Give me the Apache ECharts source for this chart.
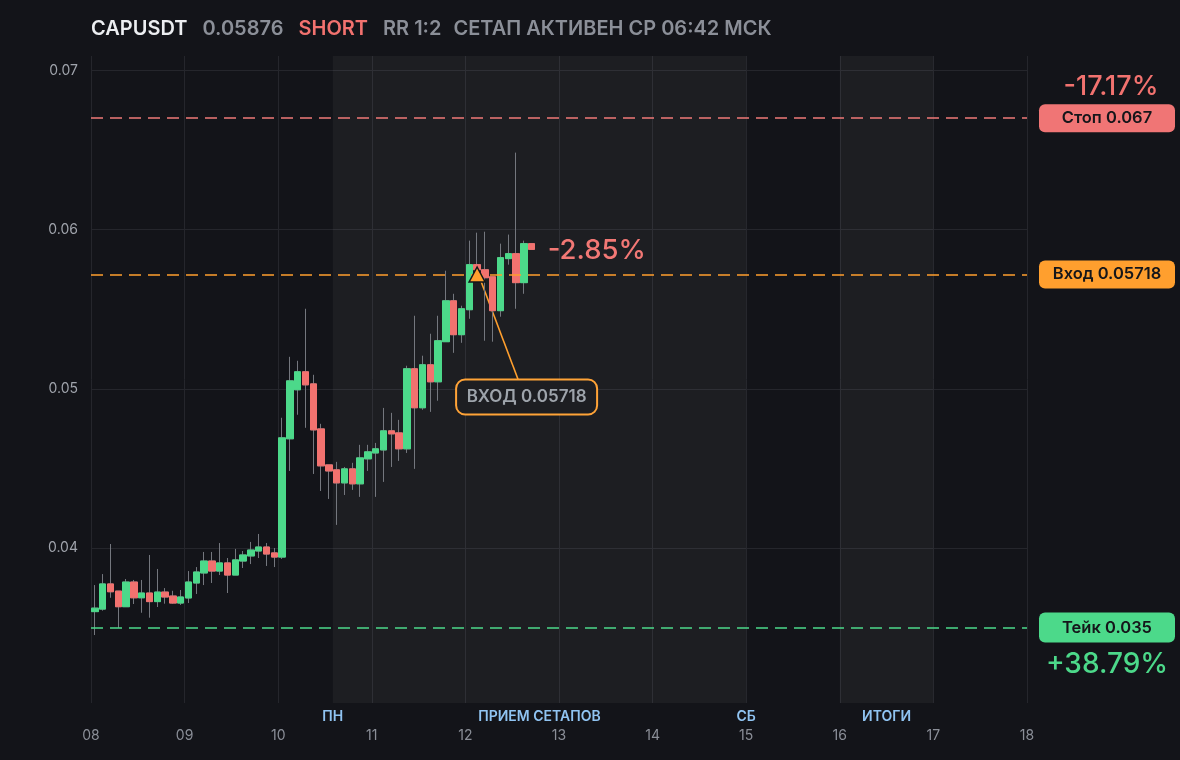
<!DOCTYPE html>
<html><head><meta charset="utf-8">
<style>html,body{margin:0;padding:0;background:#131419;}#c{width:1180px;height:760px;}</style>
<script src="https://cdn.jsdelivr.net/npm/echarts@6/dist/echarts.min.js"></script>
</head><body><div id="c"></div><script>
// ---- data ----
const startDay = 8;            // day of month of first candle
const candleHours = 2;         // candle interval
const opens  = [0.03600,0.03616,0.03774,0.03729,0.03631,0.03786,0.03687,0.03717,0.03663,0.03723,0.03698,0.03654,0.03686,0.03780,0.03843,0.03918,0.03855,0.03906,0.03830,0.03918,0.03950,0.03981,0.04006,0.03969,0.03943,0.04686,0.04994,0.05107,0.05031,0.04748,0.04522,0.04491,0.04409,0.04497,0.04403,0.04560,0.04597,0.04616,0.04736,0.04723,0.04623,0.05126,0.04881,0.05151,0.05044,0.05296,0.05553,0.05340,0.05497,0.05780,0.05748,0.05704,0.05491,0.05818,0.05849,0.05667,0.05912];
const closes = [0.03622,0.03774,0.03725,0.03631,0.03786,0.03687,0.03717,0.03663,0.03723,0.03692,0.03654,0.03692,0.03786,0.03849,0.03918,0.03855,0.03906,0.03830,0.03925,0.03956,0.03987,0.04006,0.03962,0.03943,0.04692,0.05050,0.05107,0.05025,0.04742,0.04516,0.04484,0.04409,0.04497,0.04403,0.04566,0.04604,0.04623,0.04736,0.04717,0.04623,0.05126,0.04881,0.05151,0.05044,0.05302,0.05553,0.05340,0.05503,0.05780,0.05748,0.05698,0.05491,0.05824,0.05849,0.05667,0.05912,0.05876];
const lows   = [0.03453,0.03606,0.03687,0.03497,0.03631,0.03648,0.03593,0.03562,0.03629,0.03650,0.03650,0.03642,0.03654,0.03711,0.03767,0.03780,0.03830,0.03717,0.03830,0.03874,0.03899,0.03937,0.03887,0.03880,0.03931,0.04484,0.04837,0.04755,0.04465,0.04358,0.04308,0.04145,0.04333,0.04365,0.04321,0.04484,0.04321,0.04415,0.04509,0.04547,0.04597,0.04497,0.04868,0.04855,0.04925,0.05296,0.05226,0.05289,0.05440,0.05720,0.05302,0.05296,0.05453,0.05780,0.05503,0.05597,0.05876];
const highs  = [0.03767,0.03836,0.04025,0.03729,0.03805,0.03799,0.03799,0.03956,0.03868,0.03748,0.03731,0.03736,0.03855,0.03880,0.03975,0.03975,0.04031,0.03937,0.03994,0.03981,0.04038,0.04088,0.04031,0.04000,0.04818,0.05201,0.05176,0.05503,0.05088,0.04780,0.04522,0.04541,0.04509,0.04535,0.04648,0.04648,0.04660,0.04880,0.04849,0.04805,0.05145,0.05459,0.05208,0.05346,0.05459,0.05742,0.05597,0.05522,0.05931,0.05981,0.05987,0.05704,0.05912,0.05969,0.06484,0.05931,0.05912];
const dayTicks = [8,9,10,11,12,13,14,15,16,17,18];
const priceTicks = [0.04,0.05,0.06,0.07];
const symbol = 'CAPUSDT', lastPrice = '0.05876', side = 'SHORT', rr = 'RR 1:2', status = 'СЕТАП АКТИВЕН СР 06:42 МСК';
const stopPrice = 0.067, entryPrice = 0.05718, takePrice = 0.035;
const stopPct = '-17.17%', takePct = '+38.79%', livePct = '-2.85%';
const entryCandle = 49;
const zones = [{from:10.583, to:15, label:'ПРИЕМ СЕТАПОВ', startLabel:'ПН', endLabel:'СБ'}, {from:16, to:17, label:'ИТОГИ'}];

// ---- colours ----
const GREEN='#4cd98a', RED='#f2726f', ORANGE='#ff9f2e', WICK='#74777e', GRID='#25262c', TXT='#8b8f98', BLUE='#90c4f2';

const xs = opens.map((_, i) => startDay + (i * candleHours + candleHours / 2) / 24);
const wickData = xs.map((x, i) => [x, opens[i], closes[i], lows[i], highs[i]]);
const bodyData = xs.map((x, i) => [x, opens[i], closes[i], Math.min(opens[i], closes[i]), Math.max(opens[i], closes[i])]);

const chart = echarts.init(document.getElementById('c'), null, {renderer:'canvas'});
const FONT = 'Inter, "Noto Sans", sans-serif';
chart.setOption({
  backgroundColor:'#131419',
  animation:false,
  textStyle:{fontFamily:FONT},
  title:{
    left:86, top:14,
    text:`{a|${symbol}}{b|${lastPrice}}{c|${side}}{b|${rr}}{d|${status}}`,
    textStyle:{rich:{
      a:{color:'#eceef1', fontSize:20, fontWeight:600, fontFamily:FONT},
      b:{color:TXT, fontSize:20, fontWeight:600, fontFamily:FONT, padding:[0,0,0,15]},
      c:{color:RED, fontSize:20, fontWeight:600, fontFamily:FONT, padding:[0,0,0,15]},
      d:{color:TXT, fontSize:20, fontWeight:600, fontFamily:FONT, padding:[0,0,0,12]}
    }}
  },
  grid:{left:91, right:153, top:56, bottom:57, show:false},
  xAxis:{
    type:'value', min:8, max:18, interval:1,
    axisLine:{show:false}, axisTick:{show:false},
    axisLabel:{color:TXT, fontSize:14, margin:26, formatter:v=>String(v).padStart(2,'0'), fontFamily:FONT},
    splitLine:{show:true, lineStyle:{color:GRID, width:1}}
  },
  yAxis:{
    type:'value', min:0.03026, max:0.07091, scale:true,
    axisLine:{show:false},
    axisTick:{show:false, customValues:priceTicks},
    axisLabel:{color:'#a0a4ac', fontSize:14, margin:13, customValues:priceTicks, formatter:v=>v.toFixed(2), fontFamily:FONT},
    splitLine:{show:true, lineStyle:{color:GRID, width:1}}
  },
  series:[
    {
      type:'candlestick', name:'wick', data:wickData, barWidth:7, z:2,
      itemStyle:{color:'transparent', color0:'transparent', borderColor:WICK, borderColor0:WICK, borderWidth:1},
      markArea:{silent:true, itemStyle:{color:'rgba(255,255,255,0.045)'},
        data: zones.map(z=>[{xAxis:z.from},{xAxis:z.to}])},
      markLine:{silent:true, symbol:'none', precision:6, label:{show:false},
        data:[
          {yAxis:stopPrice, lineStyle:{color:'#f07a78', type:[12,7], width:1.6}},
          {yAxis:entryPrice, lineStyle:{color:ORANGE, type:[12,7], width:1.6}},
          {yAxis:takePrice, lineStyle:{color:GREEN, type:[12,7], width:1.6}}
        ]}
    },
    {
      type:'candlestick', name:'body', data:bodyData, barWidth:7, z:3,
      itemStyle:{color:GREEN, color0:RED, borderColor:GREEN, borderColor0:RED, borderWidth:1},
      markPoint:{silent:true, data:[{coord:[xs[entryCandle], entryPrice], symbol:'triangle', symbolSize:[16,15],
        itemStyle:{color:ORANGE, borderColor:'#15161a', borderWidth:1.5}, label:{show:false}}]}
    }
  ]
});

function px(x, y){ return chart.convertToPixel({xAxisIndex:0, yAxisIndex:0}, [x, y]); }
const right = px(18, 0)[0];
const boxX = right + 12, boxW = 136;
function tag(price, label, bg, h){
  const y = px(18, price)[1];
  return {type:'group', children:[
    {type:'rect', shape:{x:boxX, y:y-h/2, width:boxW, height:h, r:6}, style:{fill:bg}},
    {type:'text', x:boxX+boxW/2, y:y, style:{text:label, fill:'#15161a', font:`600 16.5px ${FONT}`, align:'center', verticalAlign:'middle'}}
  ]};
}
const g = [];
g.push(tag(stopPrice, 'Стоп ' + stopPrice, '#f07575', 28));
g.push(tag(entryPrice, 'Вход ' + entryPrice, ORANGE, 28));
g.push(tag(takePrice, 'Тейк ' + takePrice, GREEN, 30));
const sy = px(18, stopPrice)[1], ty = px(18, takePrice)[1];
g.push({type:'text', x:boxX+boxW/2+4, y:sy-31, style:{text:stopPct, fill:RED, font:`500 27px ${FONT}`, align:'center', verticalAlign:'middle'}});
g.push({type:'text', x:boxX+boxW/2, y:ty+37, style:{text:takePct, fill:GREEN, font:`500 28px ${FONT}`, align:'center', verticalAlign:'middle'}});
// live pct near last candle
const lastP = px(xs[xs.length-1], closes[closes.length-1]);
g.push({type:'text', x:lastP[0]+16, y:lastP[1]+1, style:{text:livePct, fill:RED, font:`500 27.5px ${FONT}`, align:'left', verticalAlign:'middle'}});
// entry callout
const ep = px(xs[entryCandle], entryPrice);
const bx = ep[0] - 21, by = ep[1] + 105, bw = 141, bh = 35;
g.push({type:'line', shape:{x1:ep[0]+4, y1:ep[1]+7, x2:ep[0]+41, y2:by}, style:{stroke:ORANGE, lineWidth:1.6}, z:1});
g.push({type:'rect', shape:{x:bx, y:by, width:bw, height:bh, r:9}, style:{fill:'#131419', stroke:ORANGE, lineWidth:2}});
g.push({type:'text', x:bx+bw/2, y:by+bh/2, style:{text:'ВХОД ' + entryPrice, fill:'#9aa0a8', font:`600 17px ${FONT}`, align:'center', verticalAlign:'middle'}});
// zone labels
const labY = 717;
zones.forEach(z=>{
  const mid = px((z.from+z.to)/2, 0.05)[0];
  g.push({type:'text', x:mid, y:labY, style:{text:z.label, fill:BLUE, font:`600 14px ${FONT}`, align:'center', verticalAlign:'middle'}});
  if (z.startLabel) g.push({type:'text', x:px(z.from,0.05)[0], y:labY, style:{text:z.startLabel, fill:BLUE, font:`600 14px ${FONT}`, align:'center', verticalAlign:'middle'}});
  if (z.endLabel) g.push({type:'text', x:px(z.to,0.05)[0], y:labY, style:{text:z.endLabel, fill:BLUE, font:`600 14px ${FONT}`, align:'center', verticalAlign:'middle'}});
});
chart.setOption({graphic:g});
</script></body></html>
